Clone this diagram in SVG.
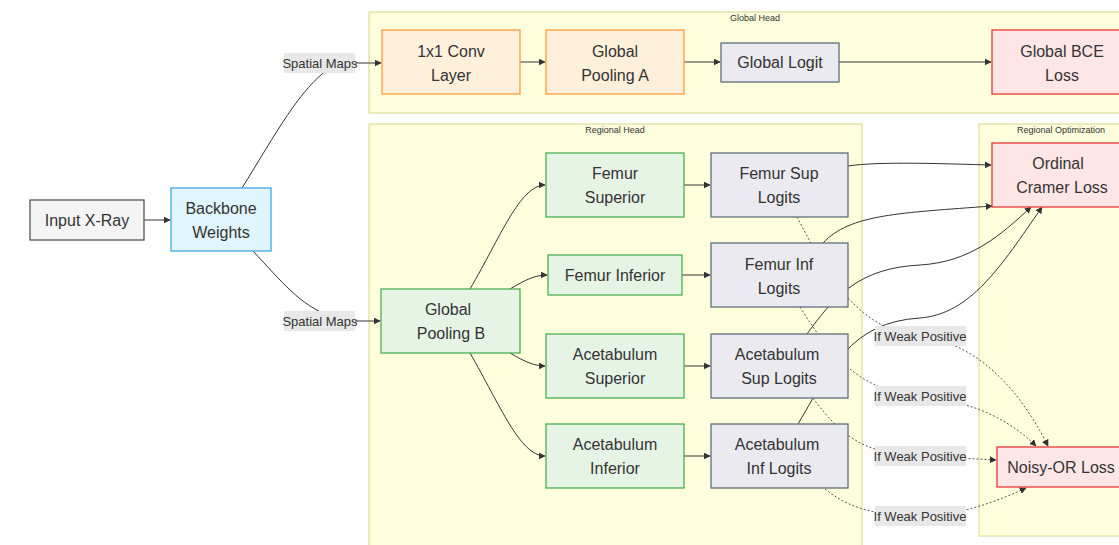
<svg xmlns="http://www.w3.org/2000/svg" width="1119" height="545" viewBox="0 0 1119 545">
<defs>
<style>
text{font-family:"Liberation Sans",Arial,sans-serif;fill:#333;text-anchor:middle;dominant-baseline:central}
.n{font-size:16px}
.lbl{font-size:13px}
.ct{font-size:9px}
.cl{fill:#ffffde;stroke:#d6d68a;stroke-width:1}
.e{fill:none;stroke:#333;stroke-width:1}
.d{fill:none;stroke:#555;stroke-width:1;stroke-dasharray:2 2}
.lb{fill:#e8e8e8}
.inp{fill:#f4f4f4;stroke:#555;stroke-width:1.3}
.bb{fill:#e1f5fe;stroke:#3fa9e0;stroke-width:1.3}
.or{fill:#fff0dc;stroke:#ff9a3c;stroke-width:1.3}
.gr{fill:#e6f4e6;stroke:#4caf50;stroke-width:1.3}
.lg{fill:#eaeaf0;stroke:#5f6e7c;stroke-width:1.3}
.rd{fill:#ffe6e6;stroke:#e53935;stroke-width:1.3}
</style>
<marker id="ah" viewBox="0 0 10 10" refX="9" refY="5" markerWidth="7" markerHeight="7" orient="auto" markerUnits="userSpaceOnUse">
<path d="M0,0 L10,5 L0,10 z" fill="#333"/>
</marker>
</defs>
<rect width="1119" height="545" fill="#ffffff"/>

<g id="clusters">
<g id="cluster-global-head"><rect class="cl" x="369" y="12" width="772" height="101"/><text class="ct" x="755" y="18">Global Head</text></g>
<g id="cluster-regional-head"><rect class="cl" x="369" y="124" width="493" height="430"/><text class="ct" x="615" y="130">Regional Head</text></g>
<g id="cluster-regional-opt"><rect class="cl" x="979" y="124" width="164" height="412"/><text class="ct" x="1061" y="130">Regional Optimization</text></g>
</g>

<g id="connectors">
<path class="e" d="M144,220 L170,220" marker-end="url(#ah)"/>
<path class="e" d="M242,188 C275,135 300,88 330,68 L345,63 L381,63" marker-end="url(#ah)"/>
<path class="e" d="M253,251 C282,282 300,305 330,316 L345,321 L380,321" marker-end="url(#ah)"/>
<path class="e" d="M520,62 L545,62" marker-end="url(#ah)"/>
<path class="e" d="M684,62 L720,62" marker-end="url(#ah)"/>
<path class="e" d="M839,62 L991,62" marker-end="url(#ah)"/>
<path class="e" d="M470,289 C500,238 520,185 545,185" marker-end="url(#ah)"/>
<path class="e" d="M510,289 C525,280 535,275 547,275" marker-end="url(#ah)"/>
<path class="e" d="M510,353 C525,362 535,366 545,366" marker-end="url(#ah)"/>
<path class="e" d="M470,353 C500,405 520,456 545,456" marker-end="url(#ah)"/>
<path class="e" d="M684,185 L710,185" marker-end="url(#ah)"/>
<path class="e" d="M682,275 L710,275" marker-end="url(#ah)"/>
<path class="e" d="M684,366 L710,366" marker-end="url(#ah)"/>
<path class="e" d="M684,456 L710,456" marker-end="url(#ah)"/>
<path class="e" d="M848,166 C880,161 950,164 991,165" marker-end="url(#ah)"/>
<path class="e" d="M823,243 C850,214 900,213 992,206" marker-end="url(#ah)"/>
<path class="e" d="M807,334 C835,295 860,268 920,265 C970,262 1000,236 1031,207" marker-end="url(#ah)"/>
<path class="e" d="M798,424 C830,370 850,322 920,318 C970,314 1000,268 1042,207" marker-end="url(#ah)"/>
<path class="d" d="M797,217 C825,270 855,330 920,336 C990,345 1030,410 1048,446" marker-end="url(#ah)"/>
<path class="d" d="M800,307 C830,355 860,392 920,396 C980,402 1015,425 1036,446" marker-end="url(#ah)"/>
<path class="d" d="M813,398 C840,435 865,455 920,456 L996,460" marker-end="url(#ah)"/>
<path class="d" d="M825,489 C845,505 870,516 920,516 C960,516 1000,500 1026,488" marker-end="url(#ah)"/>
</g>

<g id="edge-labels">
<g id="lbl-sm1"><rect class="lb" x="284" y="53" width="71" height="20"/><text class="lbl" x="320" y="63">Spatial Maps</text></g>
<g id="lbl-sm2"><rect class="lb" x="284" y="311" width="71" height="20"/><text class="lbl" x="320" y="321">Spatial Maps</text></g>
<g id="lbl-w1"><rect class="lb" x="875" y="326" width="91" height="20"/><text class="lbl" x="920" y="336">If Weak Positive</text></g>
<g id="lbl-w2"><rect class="lb" x="875" y="386" width="91" height="20"/><text class="lbl" x="920" y="396">If Weak Positive</text></g>
<g id="lbl-w3"><rect class="lb" x="875" y="446" width="91" height="20"/><text class="lbl" x="920" y="456">If Weak Positive</text></g>
<g id="lbl-w4"><rect class="lb" x="875" y="506" width="91" height="20"/><text class="lbl" x="920" y="516">If Weak Positive</text></g>
</g>

<g id="input-xray"><rect class="inp" x="30" y="200" width="114" height="40"/><text class="n" x="87" y="220">Input X-Ray</text></g>
<g id="backbone"><rect class="bb" x="171" y="188" width="100" height="63"/><text class="n" x="221" y="208">Backbone</text><text class="n" x="221" y="232">Weights</text></g>
<g id="conv"><rect class="or" x="382" y="30" width="138" height="64"/><text class="n" x="451" y="51">1x1 Conv</text><text class="n" x="451" y="75">Layer</text></g>
<g id="pool-a"><rect class="or" x="546" y="30" width="138" height="64"/><text class="n" x="615" y="51">Global</text><text class="n" x="615" y="75">Pooling A</text></g>
<g id="global-logit"><rect class="lg" x="721" y="43" width="118" height="39"/><text class="n" x="780" y="62">Global Logit</text></g>
<g id="global-bce"><rect class="rd" x="992" y="30" width="140" height="64"/><text class="n" x="1062" y="51">Global BCE</text><text class="n" x="1062" y="75">Loss</text></g>

<g id="pool-b"><rect class="gr" x="381" y="289" width="139" height="64"/><text class="n" x="448" y="309">Global</text><text class="n" x="451" y="333">Pooling B</text></g>
<g id="femur-sup"><rect class="gr" x="546" y="153" width="138" height="64"/><text class="n" x="615" y="173">Femur</text><text class="n" x="615" y="197">Superior</text></g>
<g id="femur-inf"><rect class="gr" x="548" y="255" width="134" height="40"/><text class="n" x="615" y="275">Femur Inferior</text></g>
<g id="acet-sup"><rect class="gr" x="546" y="334" width="138" height="64"/><text class="n" x="615" y="354">Acetabulum</text><text class="n" x="615" y="378">Superior</text></g>
<g id="acet-inf"><rect class="gr" x="546" y="424" width="138" height="64"/><text class="n" x="615" y="444">Acetabulum</text><text class="n" x="615" y="468">Inferior</text></g>

<g id="femur-sup-logits"><rect class="lg" x="711" y="153" width="137" height="64"/><text class="n" x="779" y="173">Femur Sup</text><text class="n" x="779" y="197">Logits</text></g>
<g id="femur-inf-logits"><rect class="lg" x="711" y="243" width="137" height="64"/><text class="n" x="779" y="264">Femur Inf</text><text class="n" x="779" y="288">Logits</text></g>
<g id="acet-sup-logits"><rect class="lg" x="711" y="334" width="137" height="64"/><text class="n" x="777" y="354">Acetabulum</text><text class="n" x="779" y="378">Sup Logits</text></g>
<g id="acet-inf-logits"><rect class="lg" x="711" y="424" width="137" height="64"/><text class="n" x="777" y="444">Acetabulum</text><text class="n" x="779" y="468">Inf Logits</text></g>

<g id="ordinal"><rect class="rd" x="992" y="143" width="140" height="64"/><text class="n" x="1058" y="163">Ordinal</text><text class="n" x="1062" y="187">Cramer Loss</text></g>
<g id="noisy-or"><rect class="rd" x="997" y="447" width="135" height="40"/><text class="n" x="1061" y="467">Noisy-OR Loss</text></g>
</svg>
